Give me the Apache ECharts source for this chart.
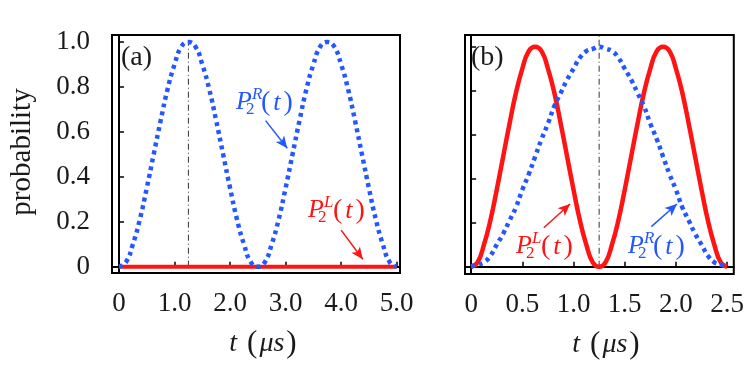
<!DOCTYPE html>
<html>
<head>
<meta charset="utf-8">
<script src="https://cdn.jsdelivr.net/npm/echarts@6/dist/echarts.min.js"></script>
<style>
html,body{margin:0;padding:0;background:#fff}
#chart{width:747px;height:366px}
</style>
</head>
<body>
<div id="chart"></div>
<script>
//Get UI
let chart = echarts.init(document.getElementById('chart'));

//data, panel (a)
let tA = [0,0.125,0.25,0.375,0.5,0.625,0.75,0.875,1,1.125,1.25,1.375,1.5,1.625,1.75,1.875,2,2.125,2.25,2.375,2.5,
          2.625,2.75,2.875,3,3.125,3.25,3.375,3.5,3.625,3.75,3.875,4,4.125,4.25,4.375,4.5,4.625,4.75,4.875,5];
let pRA = [0,0.02,0.10,0.21,0.35,0.50,0.65,0.79,0.90,0.98,1.00,0.98,0.90,0.79,0.65,0.50,0.35,0.21,0.10,0.02,0,
           0.02,0.10,0.21,0.35,0.50,0.65,0.79,0.90,0.98,1.00,0.98,0.90,0.79,0.65,0.50,0.35,0.21,0.10,0.02,0];
let pLA = [0,0,0,0,0,0,0,0,0,0,0,0,0,0,0,0,0,0,0,0,0,
           0,0,0,0,0,0,0,0,0,0,0,0,0,0,0,0,0,0,0,0];

//data, panel (b)
let tB = [0,0.0625,0.125,0.1875,0.25,0.3125,0.375,0.4375,0.5,0.5625,0.625,0.6875,0.75,0.8125,0.875,0.9375,1,1.0625,1.125,1.1875,1.25,
          1.3125,1.375,1.4375,1.5,1.5625,1.625,1.6875,1.75,1.8125,1.875,1.9375,2,2.0625,2.125,2.1875,2.25,2.3125,2.375,2.4375,2.5];
let pLB = [0,0.02,0.10,0.21,0.35,0.50,0.65,0.79,0.90,0.98,1.00,0.98,0.90,0.79,0.65,0.50,0.35,0.21,0.10,0.02,0,
           0.02,0.10,0.21,0.35,0.50,0.65,0.79,0.90,0.98,1.00,0.98,0.90,0.79,0.65,0.50,0.35,0.21,0.10,0.02,0];
let pRB = [0,0.01,0.02,0.05,0.10,0.15,0.21,0.27,0.35,0.42,0.50,0.58,0.65,0.73,0.79,0.85,0.90,0.95,0.98,0.99,1.00,
           0.99,0.98,0.95,0.90,0.85,0.79,0.73,0.65,0.58,0.50,0.42,0.35,0.27,0.21,0.15,0.10,0.05,0.02,0.01,0];

//vertical dash-dot marker at t = 1.25
let markT = 1.25;

//tick labels
let xTicksA = [0,1,2,3,4,5];
let xTicksB = [0,0.5,1,1.5,2,2.5];
let yTicks = [0,0.2,0.4,0.6,0.8,1];

//arrows [x1,y1,x2,y2] in data units
let arrowRA = [2.64,0.65,3.03,0.527];
let arrowLA = [4.0,0.163,4.39,0.033];
let arrowLB = [0.71,0.177,0.966,0.285];
let arrowRB = [1.76,0.182,2.01,0.285];

const BLUE = '#2457ff';
const RED = '#ff1414';
const INK = '#1a1a1a';
const SERIF = '"Liberation Serif", "DejaVu Serif", serif';

function zip(xs, ys) {
    let out = [];
    for (let i = 0; i < xs.length; i++) out.push([xs[i], ys[i]]);
    return out;
}

function numLabel(v) {
    if (Math.abs(v) < 1e-9) return '0';
    return v.toFixed(1);
}

function arrow(a, color) {
    return {
        silent: true,
        animation: false,
        symbol: ['none', 'arrow'],
        symbolSize: [8, 12],
        label: {show: false},
        lineStyle: {color: color, width: 1.5, type: 'solid'},
        data: [[{coord: [a[0], a[1]]}, {coord: [a[2], a[3]]}]]
    };
}

function xAxis(grid, min, max, ticks) {
    return {
        type: 'value', gridIndex: grid, min: min, max: max,
        splitLine: {show: false},
        axisLine: {show: true, lineStyle: {color: '#000', width: 2}},
        axisTick: {show: true, inside: true, length: 5, customValues: ticks, lineStyle: {color: '#000', width: 1.5}},
        axisLabel: {show: true, customValues: ticks, formatter: numLabel, margin: 17,
            fontFamily: SERIF, fontSize: 27, color: INK}
    };
}

function yAxis(grid, min, max, showLabel) {
    return {
        type: 'value', gridIndex: grid, min: min, max: max,
        splitLine: {show: false},
        axisLine: {show: true, lineStyle: {color: '#000', width: 2}},
        axisTick: {show: true, inside: true, length: 5, customValues: yTicks, lineStyle: {color: '#000', width: 1.5}},
        axisLabel: {show: showLabel, customValues: yTicks, formatter: numLabel, margin: 22,
            fontFamily: SERIF, fontSize: 27, color: INK}
    };
}

//P_2^X(t) label made of a few text pieces
function pLabel(x, y, sup, color) {
    return {
        type: 'group', x: x, y: y,
        children: [
            {type: 'text', style: {text: 'P', x: 0, y: 0, fill: color, font: 'italic 26px ' + SERIF, verticalAlign: 'middle'}},
            {type: 'text', style: {text: '2', x: 10, y: 8, fill: color, font: '17px ' + SERIF, verticalAlign: 'middle'}},
            {type: 'text', style: {text: sup, x: 16, y: -7, fill: color, font: 'italic 17px ' + SERIF, verticalAlign: 'middle'}},
            {type: 'text', style: {
                text: '{n|(}{i|t}{n|)}', x: 25, y: 1, fill: color, verticalAlign: 'middle',
                rich: {
                    n: {fontFamily: SERIF, fontSize: 28, color: color},
                    i: {fontFamily: SERIF, fontSize: 26, fontStyle: 'italic', color: color, padding: [0, 3, 0, 3]}
                }
            }}
        ]
    };
}

function axisName(x, y) {
    return {
        type: 'text', x: x, y: y,
        style: {
            text: '{t|t}{n|(}{i|μs}{n|)}', x: 0, y: 0, align: 'center', verticalAlign: 'middle', fill: INK,
            rich: {
                t: {fontFamily: SERIF, fontSize: 28, fontStyle: 'italic', color: INK, padding: [0, 10, 0, 0]},
                i: {fontFamily: SERIF, fontSize: 28, fontStyle: 'italic', color: INK, padding: [0, 2, 0, 2]},
                n: {fontFamily: SERIF, fontSize: 31, color: INK}
            }
        }
    };
}

let option = {
    animation: false,
    backgroundColor: '#fff',
    grid: [
        {left: 112, top: 35, width: 288, height: 238, show: true, borderColor: '#000', borderWidth: 2, backgroundColor: 'transparent'},
        {left: 465, top: 35, width: 281, height: 239, show: true, borderColor: '#000', borderWidth: 2, backgroundColor: 'transparent'}
    ],
    xAxis: [
        xAxis(0, -0.126, 5.06, xTicksA),
        xAxis(1, -0.06, 2.565, xTicksB)
    ],
    yAxis: [
        yAxis(0, -0.028, 1.031, true),
        yAxis(1, -0.033, 1.053, false)
    ],
    series: [
        {type: 'line', xAxisIndex: 0, yAxisIndex: 0, data: [[markT, 0], [markT, 1]], showSymbol: false, silent: true, z: 1,
            lineStyle: {color: '#333', width: 1, type: [6, 3, 1, 3]}},
        {type: 'line', xAxisIndex: 0, yAxisIndex: 0, data: zip(tA, pLA), showSymbol: false, z: 2,
            lineStyle: {color: RED, width: 4}, markLine: arrow(arrowLA, RED)},
        {type: 'line', xAxisIndex: 0, yAxisIndex: 0, data: zip(tA, pRA), showSymbol: false, smooth: true, z: 3,
            lineStyle: {color: BLUE, width: 4.5, type: [4, 4]}, markLine: arrow(arrowRA, BLUE)},

        {type: 'line', xAxisIndex: 1, yAxisIndex: 1, data: [[markT, 0], [markT, 1.053]], showSymbol: false, silent: true, z: 1,
            lineStyle: {color: '#333', width: 1, type: [6, 3, 1, 3]}},
        {type: 'line', xAxisIndex: 1, yAxisIndex: 1, data: zip(tB, pLB), showSymbol: false, smooth: true, z: 2,
            lineStyle: {color: RED, width: 4.5}, markLine: arrow(arrowLB, RED)},
        {type: 'line', xAxisIndex: 1, yAxisIndex: 1, data: zip(tB, pRB), showSymbol: false, smooth: true, z: 3,
            lineStyle: {color: BLUE, width: 4.5, type: [4, 4]}, markLine: arrow(arrowRB, BLUE)}
    ],
    graphic: [
        {type: 'text', x: 121, y: 58, style: {text: '(a)', fill: INK, font: '28px ' + SERIF, verticalAlign: 'middle'}},
        {type: 'text', x: 471, y: 58, style: {text: '(b)', fill: INK, font: '28px ' + SERIF, verticalAlign: 'middle'}},
        {type: 'text', x: 22, y: 152, rotation: Math.PI / 2,
            style: {text: 'probability', fill: INK, font: '29px ' + SERIF, align: 'center', verticalAlign: 'middle'}},
        axisName(263, 344),
        axisName(606, 345),
        pLabel(236, 102, 'R', BLUE),
        pLabel(308, 210, 'L', RED),
        pLabel(516, 246, 'L', RED),
        pLabel(628, 246, 'R', BLUE)
    ]
};

chart.setOption(option);
</script>
</body>
</html>
